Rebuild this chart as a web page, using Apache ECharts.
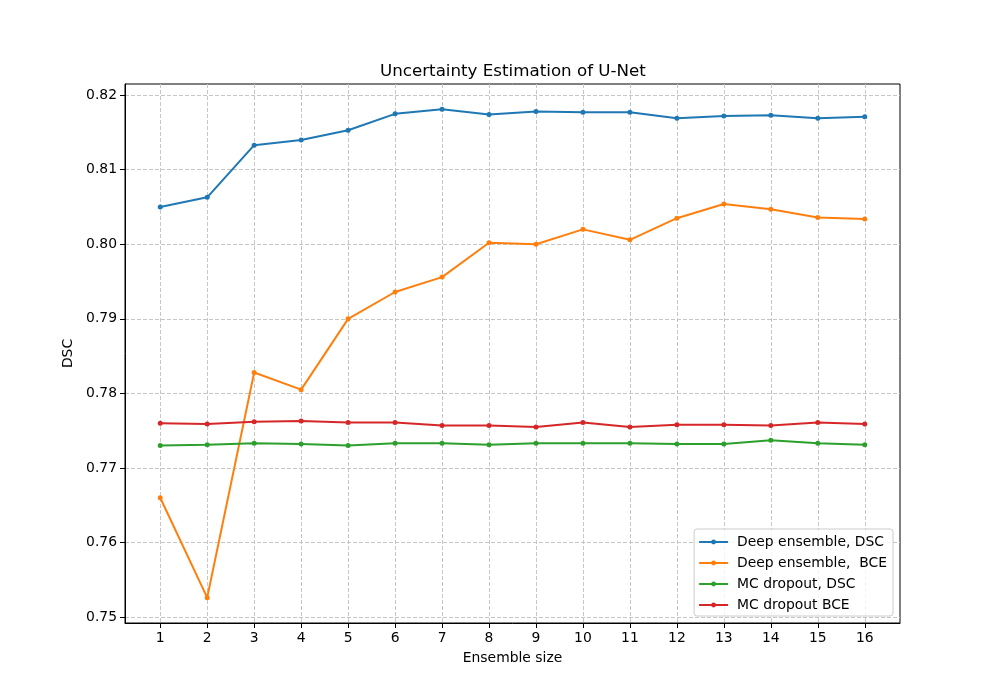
<!DOCTYPE html>
<html>
<head>
<meta charset="utf-8">
<script src="https://cdn.jsdelivr.net/npm/echarts@6/dist/echarts.min.js"></script>
<style>
  html, body { margin: 0; padding: 0; background: #fff; }
  #chart { width: 1000px; height: 700px; }
</style>
</head>
<body>
<div id="chart"></div>
<script>
// ensemble sizes on the x axis
var ensembleSize = [1, 2, 3, 4, 5, 6, 7, 8, 9, 10, 11, 12, 13, 14, 15, 16]
var yTicks = [0.75, 0.76, 0.77, 0.78, 0.79, 0.80, 0.81, 0.82]

var deepDSC = [0.8050, 0.8063, 0.8133, 0.8140, 0.8153, 0.8175, 0.8181, 0.8174,
               0.8178, 0.8177, 0.8177, 0.8169, 0.8172, 0.8173, 0.8169, 0.8171]
var deepBCE = [0.7660, 0.7526, 0.7828, 0.7805, 0.7900, 0.7936, 0.7956, 0.8002,
               0.8000, 0.8020, 0.8006, 0.8035, 0.8054, 0.8047, 0.8036, 0.8034]
var mcDSC   = [0.7730, 0.7731, 0.7733, 0.7732, 0.7730, 0.7733, 0.7733, 0.7731,
               0.7733, 0.7733, 0.7733, 0.7732, 0.7732, 0.7737, 0.7733, 0.7731]
var mcBCE   = [0.7760, 0.7759, 0.7762, 0.7763, 0.7761, 0.7761, 0.7757, 0.7757,
               0.7755, 0.7761, 0.7755, 0.7758, 0.7758, 0.7757, 0.7761, 0.7759]

var seriesNames = ['Deep ensemble, DSC', 'Deep ensemble,  BCE', 'MC dropout, DSC', 'MC dropout BCE']
var seriesColors = ['#1f77b4', '#ff7f0e', '#2ca02c', '#d62728']

var font = 'DejaVu Sans'
var chart = echarts.init(document.getElementById('chart'))

function pairs(vals) {
    return vals.map(function (v, i) { return [ensembleSize[i], v] })
}

var gridLine = { show: true, lineStyle: { color: '#c6c6c6', type: [4, 2], width: 1 } }

var option = {
    animation: false,
    backgroundColor: '#fff',
    textStyle: { fontFamily: font },
    title: {
        text: 'Uncertainty Estimation of U-Net',
        left: 375, top: 58,   // centred over the plot area
        textStyle: { fontFamily: font, fontSize: 16.7, fontWeight: 'normal', color: '#000' }
    },
    grid: {
        left: 125, right: 100, top: 84, bottom: 77,
        show: true, borderColor: '#000', borderWidth: 1
    },
    xAxis: {
        type: 'value',
        min: 0.25, max: 16.75,
        name: 'Ensemble size', nameLocation: 'middle', nameGap: 28,
        nameTextStyle: { fontFamily: font, fontSize: 13.9, color: '#000' },
        axisLine: { show: true, onZero: false, lineStyle: { color: '#000' } },
        axisTick: { show: true, length: 5, customValues: ensembleSize, lineStyle: { color: '#000' } },
        axisLabel: { customValues: ensembleSize, fontFamily: font, fontSize: 13.9, color: '#000', margin: 8 },
        splitLine: gridLine
    },
    yAxis: {
        type: 'value',
        min: 0.7492, max: 0.8215,
        name: 'DSC', nameLocation: 'middle', nameGap: 47, nameRotate: 90,
        nameTextStyle: { fontFamily: font, fontSize: 13.9, color: '#000' },
        axisLine: { show: true, lineStyle: { color: '#000' } },
        axisTick: { show: true, length: 5, customValues: yTicks, lineStyle: { color: '#000' } },
        axisLabel: {
            customValues: yTicks, fontFamily: font, fontSize: 13.9, color: '#000', margin: 8,
            formatter: function (v) { return v.toFixed(2) }
        },
        splitLine: gridLine
    },
    legend: {
        orient: 'vertical',
        right: 107, bottom: 84,
        padding: [6, 6, 4, 4],
        itemWidth: 29, itemHeight: 6, itemGap: 7,
        backgroundColor: 'rgba(255,255,255,0.8)',
        borderColor: '#cccccc', borderWidth: 1, borderRadius: 3,
        textStyle: { fontFamily: font, fontSize: 13.9, color: '#000', padding: [0, 0, 0, 4] },
        data: seriesNames
    },
    series: [deepDSC, deepBCE, mcDSC, mcBCE].map(function (vals, i) {
        return {
            name: seriesNames[i],
            type: 'line',
            data: pairs(vals),
            color: seriesColors[i],
            symbol: 'circle', symbolSize: 5,
            lineStyle: { width: 2 },
            itemStyle: { color: seriesColors[i] }
        }
    })
}
chart.setOption(option)
</script>
</body>
</html>
